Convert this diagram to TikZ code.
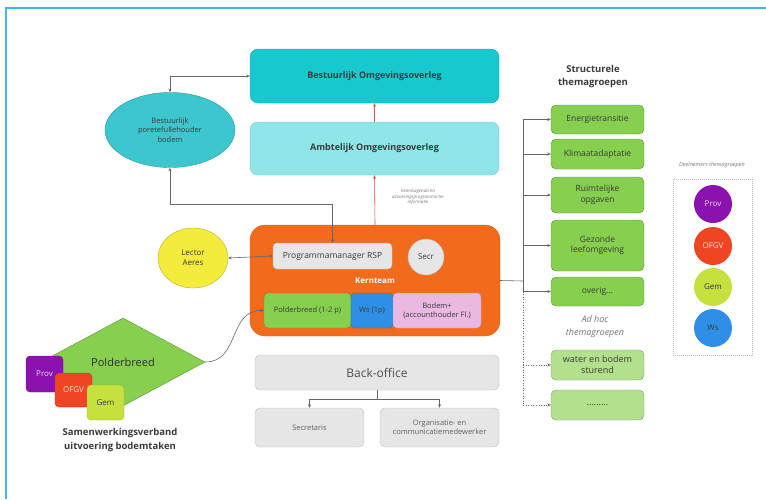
\documentclass[tikz,border=0pt]{standalone}
\usepackage{fontspec}
\setmainfont{Open Sans}
\usepackage{tikz}
\usetikzlibrary{positioning,arrows.meta,shapes.geometric}
\usepackage{xcolor}
\definecolor{framebl}{HTML}{45B5F0}
\definecolor{txt}{HTML}{3A3A3A}
\definecolor{tealdk}{HTML}{17C9CF}
\definecolor{teallt}{HTML}{8FE5E8}
\definecolor{tealel}{HTML}{3EC6CE}
\definecolor{kernor}{HTML}{F26B1D}
\definecolor{grbox}{HTML}{E6E6E6}
\definecolor{grline}{HTML}{BDBDBD}
\definecolor{thgreen}{HTML}{86CF4F}
\definecolor{thgreenlt}{HTML}{B3E08A}
\definecolor{bodpink}{HTML}{EBB8E4}
\definecolor{wsblue}{HTML}{2F8FE6}
\definecolor{lecyel}{HTML}{F4EC3C}
\definecolor{provpu}{HTML}{8B12AE}
\definecolor{ofgvred}{HTML}{EF4523}
\definecolor{gemyg}{HTML}{C6E03E}
\definecolor{redln}{HTML}{D9534F}

\begin{document}
\begin{tikzpicture}[x=1pt,y=-1pt,>={Stealth[length=3.5pt,width=3pt]}]
      \tikzstyle{box}=[draw,rounded corners=5pt,align=center,inner sep=1pt,text=txt]
      \tikzstyle{thema}=[box,fill=thgreen,draw=thgreen!70!black,minimum width=93pt,font=\fontsize{8.5}{10.5}\selectfont]
      \tikzstyle{adhoc}=[box,fill=thgreenlt,draw=thgreenlt!70!black,minimum width=93pt,minimum height=30pt,font=\fontsize{9}{11}\selectfont]
      \tikzstyle{sq}=[box,rounded corners=4pt,minimum width=37pt,minimum height=35pt,font=\fontsize{8}{10}\selectfont]
      \tikzstyle{dot}=[circle,inner sep=0pt,minimum size=38pt,font=\fontsize{8}{10}\selectfont]
      \tikzstyle{conn}=[draw=gray!80!black,line width=0.6pt]
      \useasboundingbox (0,0) rectangle (766,499);
      \draw[framebl,line width=2pt] (6,499) -- (6,8) -- (766,8);
      % bovenste overleggen
      \node[box,fill=tealdk,draw=tealdk!85!black,rounded corners=8pt,minimum width=249pt,minimum height=54pt,font=\fontsize{9}{11}\selectfont\bfseries] (bo) at (374.5,76) {Bestuurlijk Omgevingsoverleg};
      \node[box,fill=teallt,draw=teallt!85!black,rounded corners=8pt,minimum width=249pt,minimum height=53pt,font=\fontsize{9}{11}\selectfont\bfseries] (ao) at (374.5,148.5) {Ambtelijk Omgevingsoverleg};
      \node[ellipse,draw=tealel!75!black,fill=tealel,text=txt,align=center,minimum width=130pt,minimum height=75pt,inner sep=0pt,font=\fontsize{7.5}{9.5}\selectfont] (el) at (170,130) {Bestuurlijk\\poretefullehouder\\bodem};
      \node[align=center,text=txt!70,font=\fontsize{4.5}{5.5}\selectfont\itshape] (ki) at (418,197) {Kennisagenda en\\uitvoeringsprogramma ter\\informatie};
      % kernteam
      \node[box,fill=kernor,draw=kernor!90!black,rounded corners=15pt,minimum width=250pt,minimum height=111pt] (kt) at (375,280.5) {};
      \node[box,fill=grbox,draw=grline,rounded corners=4pt,minimum width=119pt,minimum height=26pt,font=\fontsize{8.5}{10}\selectfont] (pm) at (332.5,256) {Programmamanager RSP};
      \node[circle,draw=grline,fill=grbox,text=txt,minimum size=36pt,inner sep=0pt,font=\fontsize{8}{10}\selectfont] (se) at (426,257) {Secr};
      \node[text=white,font=\fontsize{8}{10}\selectfont\bfseries] (ktl) at (375,281) {Kernteam};
      \node[box,fill=thgreen,draw=thgreen!70!black,rounded corners=4pt,minimum width=87pt,minimum height=35pt,font=\fontsize{7.5}{9}\selectfont] (pb) at (307.5,310.5) {Polderbreed (1-2 p)};
      \node[box,fill=wsblue,draw=wsblue!80!black,rounded corners=4pt,minimum width=42pt,minimum height=35pt,font=\fontsize{7.5}{9}\selectfont] (ws) at (372,310.5) {Ws (1p)};
      \node[box,fill=bodpink,draw=bodpink!80!black,rounded corners=4pt,minimum width=88pt,minimum height=35pt,font=\fontsize{7.5}{9}\selectfont] (bd) at (437,310.5) {Bodem+\\(accounthouder Fl.)};
      \node[ellipse,draw=lecyel!75!black,fill=lecyel,text=txt,align=center,minimum width=70pt,minimum height=60pt,inner sep=0pt,font=\fontsize{8}{10}\selectfont] (la) at (193,258) {Lector\\Aeres};
      % polderbreed links
      \node[diamond,fill=thgreen,draw=thgreen!70!black,aspect=1.86,minimum width=164pt,minimum height=88pt,inner sep=0pt,text=txt!80!black,font=\fontsize{11}{13}\selectfont] (dm) at (123,362) {Polderbreed};
      \node[sq,fill=provpu,draw=provpu!80!black,text=white!85!provpu,minimum height=36pt] (pv) at (44.5,374) {Prov};
      \node[sq,fill=ofgvred,draw=ofgvred!80!black,text=white!85!ofgvred,minimum height=34pt] (of) at (73.5,390) {OFGV};
      \node[sq,fill=gemyg,draw=gemyg!80!black] (gm) at (105.5,402.5) {Gem};
      \node[align=center,text=txt,font=\fontsize{9.5}{14}\selectfont\bfseries] (cap) at (120,440) {Samenwerkingsverband\\uitvoering bodemtaken};
      % back-office
      \node[box,fill=grbox,draw=grline,minimum width=244pt,minimum height=35pt,text=txt!90,font=\fontsize{12}{14}\selectfont] (bk) at (377,372.5) {Back-office};
      \node[box,fill=grbox,draw=grline,minimum width=109pt,minimum height=39pt,text=txt!80,font=\fontsize{7.5}{9.5}\selectfont] (sc) at (309.5,427.5) {Secretaris};
      \node[box,fill=grbox,draw=grline,minimum width=119pt,minimum height=39pt,text=txt!80,font=\fontsize{7.5}{9.5}\selectfont] (oc) at (439.5,427.5) {Organisatie- en\\communicatiemedewerker};
      % themagroepen
      \node[align=center,text=txt,font=\fontsize{9.5}{13}\selectfont\bfseries] (st) at (593,77) {Structurele\\themagroepen};
      \node[thema,minimum height=29pt] (g1) at (597.5,119.5) {Energietransitie};
      \node[thema,minimum height=30pt] (g2) at (597.5,154) {Klimaatadaptatie};
      \node[thema,minimum height=36pt] (g3) at (597.5,195) {Ruimtelijke\\opgaven};
      \node[thema,minimum height=51pt] (g4) at (597.5,245.5) {Gezonde\\leefomgeving};
      \node[thema,minimum height=29pt] (g5) at (597.5,291.5) {overig...};
      \node[align=center,text=txt!70,font=\fontsize{9}{13}\selectfont\itshape] (ah) at (595,327) {Ad hoc\\themagroepen};
      \node[adhoc] (h1) at (597.5,365) {water en bodem\\sturend};
      \node[adhoc] (h2) at (597.5,405) {.........};
      % deelnemers
      \node[text=txt!70,font=\fontsize{5.5}{7}\selectfont\itshape] (dl) at (712,165) {Deelnemers themagroepen};
      \node[draw=gray!55,dash pattern=on 1pt off 1pt,minimum width=79pt,minimum height=176pt] (db) at (712.5,267) {};
      \node[dot,fill=provpu,text=white!85!provpu] (c1) at (713,204) {Prov};
      \node[dot,fill=ofgvred,text=white!85!ofgvred] (c2) at (713,246) {OFGV};
      \node[dot,fill=gemyg,text=txt] (c3) at (713,287) {Gem};
      \node[dot,fill=wsblue,text=txt] (c4) at (713,328) {Ws};
      % verbindingen
      \coordinate (k1) at (332.5,204);
      \coordinate (tr) at (523,281);
      \draw[conn,<->] (el.north) |- (bo.west);
      \draw[conn,<->] (el.south) |- (k1) -- (pm.north);
      \draw[->,redln,line width=0.6pt] (kt.north) -- (ao.south);
      \draw[->,redln,line width=0.6pt] (ao.north) -- (bo.south);
      \draw[conn,<->] (la.east) -- (pm.west);
      \draw[conn,->] (dm.east) .. controls (240,362) and (228,310) .. (pb.west);
      \draw[conn,->] (bk.south) -- ++(0,9) -| (sc.north);
      \draw[conn,->] (bk.south) -- ++(0,9) -| (oc.north);
      \draw[conn] (kt.east) -- (tr);
      \draw[conn] (g1.west -| tr) -- (g5.west -| tr);
      \draw[conn,->] (g1.west -| tr) -- (g1.west);
      \draw[conn,->] (g2.west -| tr) -- (g2.west);
      \draw[conn,->] (g3.west -| tr) -- (g3.west);
      \draw[conn,->] (g4.west -| tr) -- (g4.west);
      \draw[conn,->] (g5.west -| tr) -- (g5.west);
      \draw[conn,dotted] (g5.west -| tr) -- (h2.west -| tr);
      \draw[conn,dotted,->] (h1.west -| tr) -- (h1.west);
      \draw[conn,dotted,->] (h2.west -| tr) -- (h2.west);
    \end{tikzpicture}
\end{document}
